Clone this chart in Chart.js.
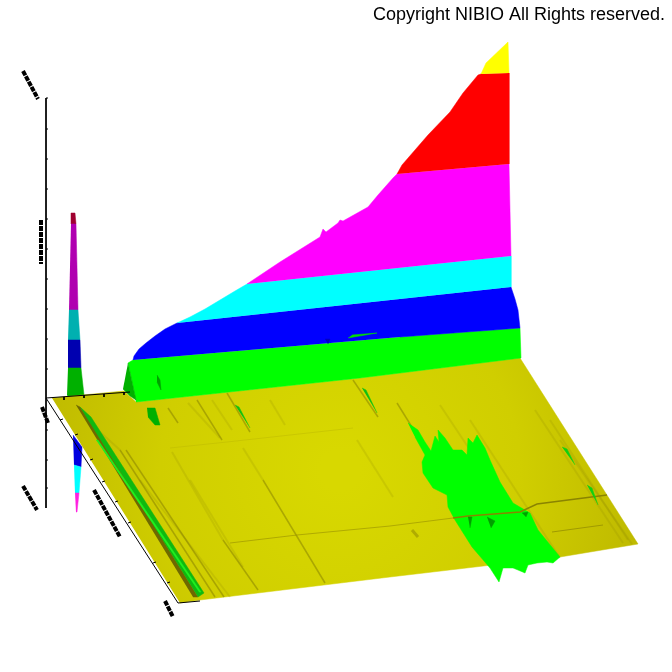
<!DOCTYPE html>
<html>
<head>
<meta charset="utf-8">
<style>html,body{margin:0;background:#fff}canvas{display:block}</style>
<script src="https://cdn.jsdelivr.net/npm/chart.js@4"></script>
</head>
<body>
<canvas id="grafico" width="672" height="672"></canvas>
<script>
// Contornos, em unidades da própria imagem (x, y)
const titulo = "Copyright NIBIO All Rights reserved.";

const superficie = [[52,398],[124,391],[136,402],[360,378],[520,358],[638,544],[560,557],[390,577],[200,600],[180,603]];
const manchaVerde = [[408,423],[418,430],[425,442],[431,451],[435,436],[439,442],[438,430],[445,438],[453,450],[462,450],[467,455],[468,438],[473,443],[477,435],[485,448],[490,460],[500,482],[513,503],[530,513],[538,530],[560,557],[553,563],[547,562],[537,563],[528,565],[525,573],[518,570],[513,568],[503,568],[499,582],[490,568],[472,547],[455,520],[448,507],[447,495],[433,488],[423,473],[422,462],[425,455],[415,437]];

const paredeVerde = [[128,363],[133,360],[400,337],[520,328],[521,358],[360,378],[136,402]];
const paredeLado = [[128,363],[136,400],[130,396],[123,389]];
const paredeAzul = [[133,360],[134,356],[139,349],[146,343],[155,336],[165,329],[177,323],[400,299],[511,287],[515,299],[518,310],[520,328],[400,337]];
const paredeCiano = [[177,323],[190,317],[205,309],[220,300],[235,291],[247,284],[511,256],[511,287]];
const paredeMagenta = [[247,284],[280,262],[320,237],[323,229],[326,232],[338,223],[340,220],[343,221],[368,207],[378,195],[393,178],[397,174],[509,164],[511,256]];
const paredeVermelha = [[397,174],[402,165],[428,135],[450,112],[463,93],[478,75],[481,74],[509,73],[509,164]];
const paredeAmarela = [[481,74],[486,63],[508,42],[509,73]];
const farpaAzul = [[348,338],[377,333],[352,335]];
const notchAzul = [[325,339],[330,339],[328,344]];

const espigaVermelha = [[71,224],[71,213],[75,213],[76,224]];
const espigaMagenta = [[71,224],[76,224],[78,310],[69,310]];
const espigaCiano = [[69,310],[78,310],[80,340],[68,340]];
const espigaAzul = [[68,340],[80,340],[81,368],[68,368]];
const espigaVerde = [[68,368],[81,368],[84,395],[92,420],[84,412],[67,395]];
const reflexoAzul = [[73,435],[82,447],[81,467],[74,465]];
const reflexoCiano = [[74,465],[81,467],[79,493],[75,493]];
const reflexoMagenta = [[75,493],[79,493],[77,512],[76,512]];

const faixaEscura = [[76,405],[80,407],[87,417],[198,597],[193,597]];
const faixaVerde = [[80,407],[91,417],[204,593],[198,597]];
const faixaVerdeClara = [[96,440],[98,440],[201,592],[199,592]];
const bolhaVerde = [[147,408],[155,408],[160,425],[155,425],[148,417]];
const veioVerde1 = [[235,405],[239,407],[250,428]];
const veioVerde2 = [[362,388],[366,390],[377,413]];
const veioVerde3 = [[562,447],[567,449],[575,465]];
const veioVerde4 = [[587,485],[592,488],[598,505]];
const manchasParede = [[157,375],[160,380],[161,390],[157,382]];
const dentesCruzada = [
  [[468,517],[472,517],[470,528]],
  [[487,517],[495,521],[491,528]],
  [[522,513],[528,512],[526,517]]
];

// Riscos da superfície: [x1, y1, x2, y2]
const riscosFortes = [
  [263,480,325,583],[223,540,258,590],[168,408,178,423],[197,400,222,440],
  [227,393,250,432],[353,380,378,417],[397,403,420,440],[120,450,215,597],[126,450,224,597]
];
const riscosFracos = [
  [243,448,263,480],[172,452,223,540],[188,403,220,438],[140,480,230,597],[190,480,243,567],
  [357,440,393,497],[212,400,232,430],[535,410,623,543],[550,420,628,540],[470,420,560,558],
  [440,405,470,450],[560,440,632,544],[270,400,285,425],[100,432,120,450]
];
const linhaCruzadaFraca = [[230,543],[297,535],[390,526],[453,518]];
const linhaCruzada = [[453,518],[468,516],[520,512],[537,504],[607,495]];
const linhaMenor = [[552,532],[603,525]];
const linhaClara = [[170,448],[227,442],[353,428]];
const riscoPequeno = [[412,530],[418,537]];

const eixos = [
  [[46,98],[46,508]],
  [[46,398],[130,392]],
  [[46,398],[178,603]],
  [[178,603],[200,601]]
];
const marcasVerticais = [98,129,159,189,219,249,279,309,339,369,430,460,488];
const marcasFundo = [[64,397],[84,395],[104,394],[124,392]];
const marcasLado = [[60,420],[75,435],[90,460],[102,482],[115,502],[128,523],[153,563],[167,583]];
// Rótulos ilegíveis da figura, só as manchas pretas
const rotulos = [
  [[23,71],[38,99]],
  [[41,220],[41,264]],
  [[42,407],[48,423]],
  [[23,486],[37,510]],
  [[94,490],[120,537]],
  [[165,601],[173,617]]
];

const canvas = document.getElementById("grafico");
const ctx = canvas.getContext("2d");
const brilho = ctx.createRadialGradient(340, 470, 20, 340, 470, 340);
brilho.addColorStop(0, "#d8d800");
brilho.addColorStop(0.5, "#d0ce00");
brilho.addColorStop(1, "#bab400");

const pontos = lista => lista.map(([x, y]) => ({ x, y }));

function poligono(lista, cor) {
  return { data: pontos(lista), fill: "shape", backgroundColor: cor, borderColor: cor, borderWidth: 0.5, pointRadius: 0 };
}
function linha(lista, cor, largura, traco) {
  return { data: pontos(lista), fill: false, borderColor: cor, borderWidth: largura, borderDash: traco || [], pointRadius: 0 };
}

const camadas = [
  poligono(reflexoAzul, "#0000e0"),
  poligono(reflexoCiano, "#00ffff"),
  poligono(reflexoMagenta, "#ff20e0"),
  poligono(espigaVermelha, "#a00030"),
  poligono(espigaMagenta, "#b000b0"),
  poligono(espigaCiano, "#00b0b0"),
  poligono(espigaAzul, "#0000b0"),
  poligono(espigaVerde, "#00b000"),
  poligono(superficie, brilho),
  linha(linhaClara, "rgba(190,185,0,0.5)", 1),
  ...riscosFracos.map(([a, b, c, d]) => linha([[a, b], [c, d]], "rgba(140,132,0,0.18)", 2)),
  ...riscosFortes.map(([a, b, c, d]) => linha([[a, b], [c, d]], "rgba(120,112,0,0.45)", 1.5)),
  poligono(faixaEscura, "#6e6800"),
  poligono(faixaVerde, "#10b810"),
  poligono(faixaVerdeClara, "#20f020"),
  linha(riscoPequeno, "rgba(140,132,0,0.5)", 3),
  poligono(manchaVerde, "#00ff00"),
  linha(linhaCruzadaFraca, "rgba(150,142,0,0.6)", 1),
  linha(linhaCruzada, "#8a8400", 1.5),
  linha(linhaMenor, "#a09a00", 1),
  ...dentesCruzada.map(d => poligono(d, "#00a000")),
  poligono(bolhaVerde, "#00b000"),
  poligono(veioVerde1, "#10c010"),
  poligono(veioVerde2, "#10c010"),
  poligono(veioVerde3, "#10d010"),
  poligono(veioVerde4, "#10d010"),
  poligono(paredeVerde, "#00ff00"),
  poligono(paredeLado, "#00b000"),
  poligono(paredeAzul, "#0000ff"),
  poligono(paredeCiano, "#00ffff"),
  poligono(paredeMagenta, "#ff00ff"),
  poligono(paredeVermelha, "#ff0000"),
  poligono(paredeAmarela, "#ffff00"),
  poligono(farpaAzul, "#00e000"),
  poligono(notchAzul, "#0000c0"),
  poligono(manchasParede, "#00a000"),
  ...eixos.map(e => linha(e, "#000", 1)),
  ...marcasVerticais.map(y => linha([[46, y], [48, y]], "#000", 1)),
  ...marcasFundo.map(([x, y]) => linha([[x, y], [x, y + 3]], "#000", 1)),
  ...marcasLado.map(([x, y]) => linha([[x, y], [x + 3, y - 1]], "#000", 1)),
  ...rotulos.map(r => linha(r, "#000", 4, [5, 1]))
];
// a última camada da lista fica por cima
camadas.forEach((c, i) => { c.order = camadas.length - i; });

const fonteTitulo = 18;
const alturaTitulo = fonteTitulo * 1.2 + 4;

new Chart(ctx, {
  type: "scatter",
  data: { datasets: camadas },
  options: {
    responsive: false,
    animation: false,
    showLine: true,
    layout: { padding: { right: 7 } },
    plugins: {
      legend: { display: false },
      tooltip: { enabled: false },
      title: {
        display: true,
        text: titulo,
        align: "end",
        color: "#000",
        padding: { top: 4, bottom: 0 },
        font: { family: "'Liberation Sans', Arial, sans-serif", size: fonteTitulo, weight: "normal" }
      }
    },
    scales: {
      x: { type: "linear", display: false, min: 0, max: 665 },
      y: { type: "linear", display: false, reverse: true, min: alturaTitulo, max: 672 }
    }
  }
});
</script>
</body>
</html>
